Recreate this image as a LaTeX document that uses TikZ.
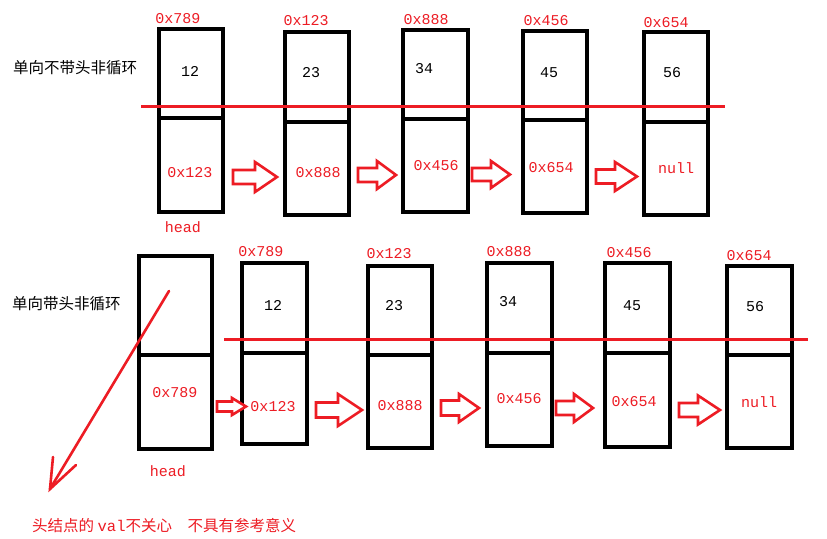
\documentclass[tikz,border=0pt]{standalone}
\usepackage{fontspec}
\setmainfont{Liberation Serif}
\newfontfamily\cjk{Noto Sans CJK SC}
\newfontfamily\lat{Liberation Mono}
\definecolor{pred}{RGB}{237,28,36}
\newcommand\lnode[6]{% name, xl, xr, top, mid, bot
  \node[cell, minimum width={(#3-#2)*1pt}, minimum height={(#5-#4)*1pt}] (#1u) at ({(#2+#3)/2},{(#4+#5)/2}) {};
  \node[cell, minimum width={(#3-#2)*1pt}, minimum height={(#6-#5)*1pt}] (#1l) at ({(#2+#3)/2},{(#5+#6)/2}) {};
}
\newcommand\blockarr[6]{% x0, xh, x1, y, s, h
  \draw[blk] (#1,#4-#5) -- (#2,#4-#5) -- (#2,#4-#6) -- (#3,#4) -- (#2,#4+#6) -- (#2,#4+#5) -- (#1,#4+#5) -- cycle;
}
\begin{document}
\begin{tikzpicture}[x=1pt,y=-1pt,
  cell/.style={draw=black, line width=3.6pt, inner sep=0pt},
  addr/.style={text=pred, font=\lat\fontsize{15}{18}\selectfont, inner sep=0pt},
  valt/.style={text=black, font=\lat\fontsize{15}{18}\selectfont, inner sep=0pt},
  title/.style={font=\cjk\fontsize{15.5}{18}\selectfont, inner sep=0pt, anchor=west},
  redline/.style={draw=pred, line width=3pt},
  blk/.style={draw=pred, line width=2.6pt, fill=white, line join=miter}]
\useasboundingbox[fill=white] (0,0) rectangle (827,538);

% ---------- top row ----------
\node[title] (t1) at (13,68) {单向不带头非循环};
\lnode{a1}{159}{223}{29}{118}{212}
\lnode{a2}{285}{349}{32}{122}{215}
\lnode{a3}{403}{468}{30}{119}{212}
\lnode{a4}{523}{587}{31}{120}{213}
\lnode{a5}{644}{708}{32}{122}{215}

\node[addr] (a1a) at (178,19) {0x789};
\node[addr] (a2a) at (306,21) {0x123};
\node[addr] (a3a) at (426,20) {0x888};
\node[addr] (a4a) at (546,21) {0x456};
\node[addr] (a5a) at (666,23) {0x654};

\node[valt] (a1v) at (190,71) {12};
\node[valt] (a2v) at (311,73) {23};
\node[valt] (a3v) at (424,69) {34};
\node[valt] (a4v) at (549,73) {45};
\node[valt] (a5v) at (672,73) {56};

\node[addr] (a1n) at (190,173) {0x123};
\node[addr] (a2n) at (318,173) {0x888};
\node[addr] (a3n) at (436,166) {0x456};
\node[addr] (a4n) at (551,168) {0x654};
\node[addr] (a5n) at (676,168) {null};
\node[addr] (ahead) at (183,227) {head};

\coordinate (l1s) at (141,106);
\coordinate (l1e) at (725,106);
\draw[redline] (l1s) -- (l1e);

\blockarr{233}{255}{277}{177}{7}{15}
\blockarr{358}{377}{396}{175}{7}{14}
\blockarr{472}{491}{510}{174.5}{6.5}{13.5}
\blockarr{596}{615}{637}{176.5}{7}{14.5}

% ---------- bottom row ----------
\node[title] (t2) at (12,304) {单向带头非循环};
\lnode{h}{139}{212}{256}{355}{449}
\lnode{b1}{242}{307}{263}{353}{444}
\lnode{b2}{368}{432}{266}{355}{448}
\lnode{b3}{487}{552}{263}{353}{446}
\lnode{b4}{605}{670}{263}{353}{447}
\lnode{b5}{727}{792}{266}{355}{448}

\node[addr] (b1a) at (261,252) {0x789};
\node[addr] (b2a) at (389,254) {0x123};
\node[addr] (b3a) at (509,252) {0x888};
\node[addr] (b4a) at (629,253) {0x456};
\node[addr] (b5a) at (749,256) {0x654};

\node[valt] (b1v) at (273,305) {12};
\node[valt] (b2v) at (394,306) {23};
\node[valt] (b3v) at (508,302) {34};
\node[valt] (b4v) at (632,306) {45};
\node[valt] (b5v) at (755,307) {56};

\node[addr] (hn) at (175,393) {0x789};
\node[addr] (b1n) at (273,407) {0x123};
\node[addr] (b2n) at (400,406) {0x888};
\node[addr] (b3n) at (519,399) {0x456};
\node[addr] (b4n) at (634,402) {0x654};
\node[addr] (b5n) at (759,402) {null};
\node[addr] (bhead) at (168,471) {head};

\coordinate (l2s) at (224,339);
\coordinate (l2e) at (808,339);
\draw[redline] (l2s) -- (l2e);

\blockarr{217}{232}{246}{406.5}{5}{8.5}
\blockarr{316}{338}{362}{410}{7.5}{16}
\blockarr{441}{459}{479}{408}{7.5}{14}
\blockarr{556}{574}{593}{408}{7}{14}
\blockarr{679}{698}{720}{410}{7}{14.5}

% diagonal note arrow
\coordinate (d1) at (169,291);
\coordinate (d2) at (50,489);
\coordinate (w1) at (53,457);
\coordinate (w2) at (76,465);
\draw[draw=pred, line width=2.6pt, line cap=round] (d1) -- (d2);
\draw[draw=pred, line width=2.6pt, line cap=round, line join=miter] (w1) -- (d2) -- (w2);

\node[title, text=pred] (note) at (32,526) {头结点的 {\lat val}不关心\hspace{1em}不具有参考意义};
\end{tikzpicture}
\end{document}
